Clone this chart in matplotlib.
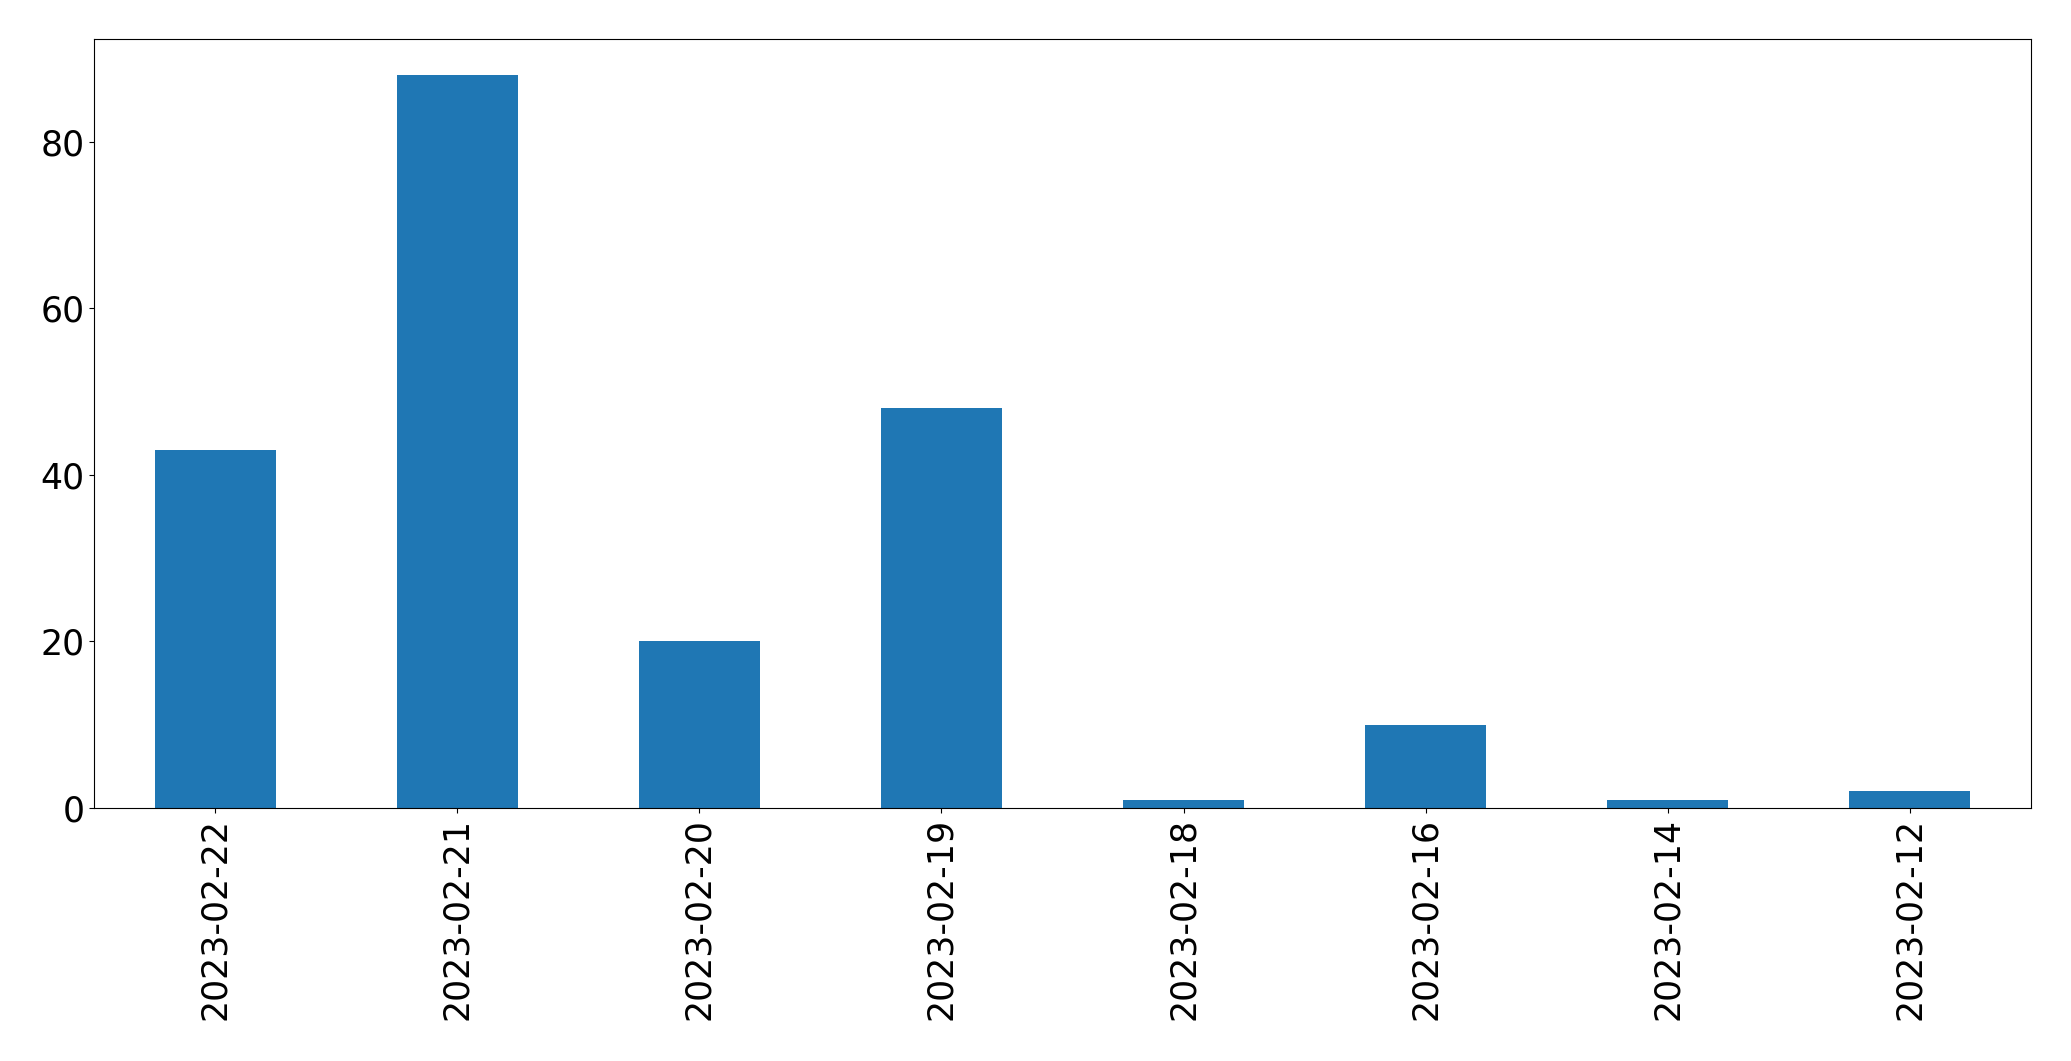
import matplotlib
matplotlib.use("Agg")
import matplotlib.pyplot as plt
import pandas as pd

# daily counts, newest first
dates = ["2023-02-22", "2023-02-21", "2023-02-20", "2023-02-19",
         "2023-02-18", "2023-02-16", "2023-02-14", "2023-02-12"]
counts = [43, 88, 20, 48, 1, 10, 1, 2]

plt.rcParams.update({'font.size': 25})

series = pd.Series(counts, index=dates)

fig, ax = plt.subplots(figsize=(20.71, 10.61), dpi=100)
series.plot(kind="bar", ax=ax, color="#1f77b4")
ax.tick_params(axis='x', labelrotation=90)

fig.subplots_adjust(left=0.0454, right=0.9807, top=0.9635, bottom=0.2385)
fig.savefig("out.png", dpi=100)
